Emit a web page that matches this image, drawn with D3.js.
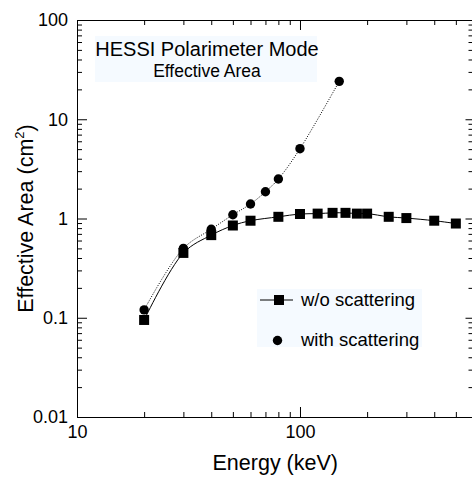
<!DOCTYPE html>
<html>
<head>
<meta charset="utf-8">
<script src="https://cdnjs.cloudflare.com/ajax/libs/d3/7.8.5/d3.min.js"></script>
<style>
  body { margin: 0; background: #fff; }
  svg { display: block; font-family: "Liberation Sans", Arial, Helvetica, sans-serif; }
  .axis path, .axis line { stroke: #000; stroke-width: 1; }
  .axis text { font-size: 18px; fill: #000; }
</style>
</head>
<body>
<div id="chart"></div>
<script>
// energies (keV) and effective area (cm^2)
var energyNoScatter = [20, 30, 40, 50, 60, 80, 100, 120, 140, 160, 180, 200, 250, 300, 400, 500];
var areaNoScatter   = [0.095, 0.45, 0.68, 0.85, 0.95, 1.04, 1.11, 1.12, 1.14, 1.14, 1.12, 1.12, 1.04, 1.01, 0.95, 0.89];
var energyScatter = [20, 30, 40, 50, 60, 70, 80, 100, 150];
var areaScatter   = [0.12, 0.50, 0.78, 1.09, 1.40, 1.86, 2.50, 5.05, 24.1];

var xMajor = [10, 100];
var xMinor = [20, 30, 40, 50, 60, 70, 80, 90, 200, 300, 400, 500];
var yMajor = [0.01, 0.1, 1, 10, 100];
var yLabels = ["0.01", "0.1", "1", "10", "100"];

var W = 472, H = 477;
// plot box (window.top is read-only, so no bare "top" here)
var pLeft = 77, pRight = 473.5, pTop = 20, pBottom = 417;

var svg = d3.select("#chart").append("svg")
    .attr("width", W)
    .attr("height", H);

var x = d3.scaleLog().domain([10, 600]).range([pLeft, pRight]);
var y = d3.scaleLog().domain([0.01, 100]).range([pBottom, pTop]);

var yMinor = [];
yMajor.slice(0, -1).forEach(function (d) {
    for (var k = 2; k < 10; k++) yMinor.push(d * k);
});

// title box
svg.append("rect")
    .attr("x", 95).attr("y", 36)
    .attr("width", 222).attr("height", 46)
    .style("fill", "#f5faff");
svg.append("text")
    .attr("x", 207).attr("y", 56)
    .attr("text-anchor", "middle")
    .style("font-size", "20px")
    .text("HESSI Polarimeter Mode");
svg.append("text")
    .attr("x", 207).attr("y", 77)
    .attr("text-anchor", "middle")
    .style("font-size", "17.5px")
    .text("Effective Area");

// legend box
svg.append("rect")
    .attr("x", 257).attr("y", 289)
    .attr("width", 165).attr("height", 58)
    .style("fill", "#f5faff");

// left axis, ticks inward
svg.append("g").attr("class", "axis")
    .attr("transform", "translate(" + pLeft + ",0)")
    .call(d3.axisLeft(y).tickValues(yMajor).tickSizeInner(-10).tickSizeOuter(0).tickPadding(9)
        .tickFormat(function (d, i) { return yLabels[i]; }));
svg.append("g").attr("class", "axis")
    .attr("transform", "translate(" + pLeft + ",0)")
    .call(d3.axisLeft(y).tickValues(yMinor).tickSize(-5).tickFormat(""))
    .select(".domain").remove();

// right axis
svg.append("g").attr("class", "axis")
    .attr("transform", "translate(" + pRight + ",0)")
    .call(d3.axisLeft(y).tickValues(yMajor).tickSizeInner(8).tickSizeOuter(0).tickFormat(""));
svg.append("g").attr("class", "axis")
    .attr("transform", "translate(" + pRight + ",0)")
    .call(d3.axisLeft(y).tickValues(yMinor).tickSize(5).tickFormat(""))
    .select(".domain").remove();

// bottom axis
svg.append("g").attr("class", "axis")
    .attr("transform", "translate(0," + pBottom + ")")
    .call(d3.axisBottom(x).tickValues(xMajor).tickSizeInner(-10).tickSizeOuter(0).tickPadding(8)
        .tickFormat(d3.format("d")));
svg.append("g").attr("class", "axis")
    .attr("transform", "translate(0," + pBottom + ")")
    .call(d3.axisBottom(x).tickValues(xMinor).tickSize(-5).tickFormat(""))
    .select(".domain").remove();

// top axis
svg.append("g").attr("class", "axis")
    .attr("transform", "translate(0," + pTop + ")")
    .call(d3.axisTop(x).tickValues(xMajor).tickSizeInner(-10).tickSizeOuter(0).tickFormat(""));
svg.append("g").attr("class", "axis")
    .attr("transform", "translate(0," + pTop + ")")
    .call(d3.axisTop(x).tickValues(xMinor).tickSize(-5).tickFormat(""))
    .select(".domain").remove();

// axis titles
svg.append("text")
    .attr("x", (pLeft + pRight) / 2).attr("y", 470)
    .attr("text-anchor", "middle")
    .style("font-size", "21.5px")
    .text("Energy (keV)");

var yt = svg.append("text")
    .attr("transform", "translate(33," + (pTop + pBottom) / 2 + ") rotate(-90)")
    .attr("text-anchor", "middle")
    .style("font-size", "21.5px");
yt.append("tspan").text("Effective Area (cm");
yt.append("tspan").attr("dy", -9).style("font-size", "13px").text("2");
yt.append("tspan").attr("dy", 9).text(")");

// series
var line = d3.line()
    .curve(d3.curveCatmullRom)
    .x(function (d) { return x(d[0]); })
    .y(function (d) { return y(d[1]); });

var noScatter = energyNoScatter.map(function (e, i) { return [e, areaNoScatter[i]]; });
var withScatter = energyScatter.map(function (e, i) { return [e, areaScatter[i]]; });

svg.append("path")
    .datum(withScatter)
    .attr("d", line)
    .style("fill", "none")
    .style("stroke", "#000")
    .style("stroke-width", 1)
    .style("stroke-dasharray", "1,1.5");

svg.append("path")
    .datum(noScatter)
    .attr("d", line)
    .style("fill", "none")
    .style("stroke", "#000")
    .style("stroke-width", 1);

svg.selectAll(".sq").data(noScatter).enter().append("rect")
    .attr("class", "sq")
    .attr("x", function (d) { return x(d[0]) - 5; })
    .attr("y", function (d) { return y(d[1]) - 5; })
    .attr("width", 10).attr("height", 10)
    .style("fill", "#000");

svg.selectAll(".dot").data(withScatter).enter().append("circle")
    .attr("class", "dot")
    .attr("cx", function (d) { return x(d[0]); })
    .attr("cy", function (d) { return y(d[1]); })
    .attr("r", 4.7)
    .style("fill", "#000");

// legend
svg.append("line")
    .attr("x1", 260).attr("x2", 293)
    .attr("y1", 300).attr("y2", 300)
    .style("stroke", "#000").style("stroke-width", 1);
svg.append("rect")
    .attr("x", 274).attr("y", 295)
    .attr("width", 10).attr("height", 10)
    .style("fill", "#000");
svg.append("text")
    .attr("x", 301).attr("y", 306)
    .style("font-size", "18.5px")
    .text("w/o scattering");
svg.append("circle")
    .attr("cx", 277.5).attr("cy", 340.5)
    .attr("r", 4.7)
    .style("fill", "#000");
svg.append("text")
    .attr("x", 301).attr("y", 346)
    .style("font-size", "18.5px")
    .text("with scattering");
</script>
</body>
</html>
